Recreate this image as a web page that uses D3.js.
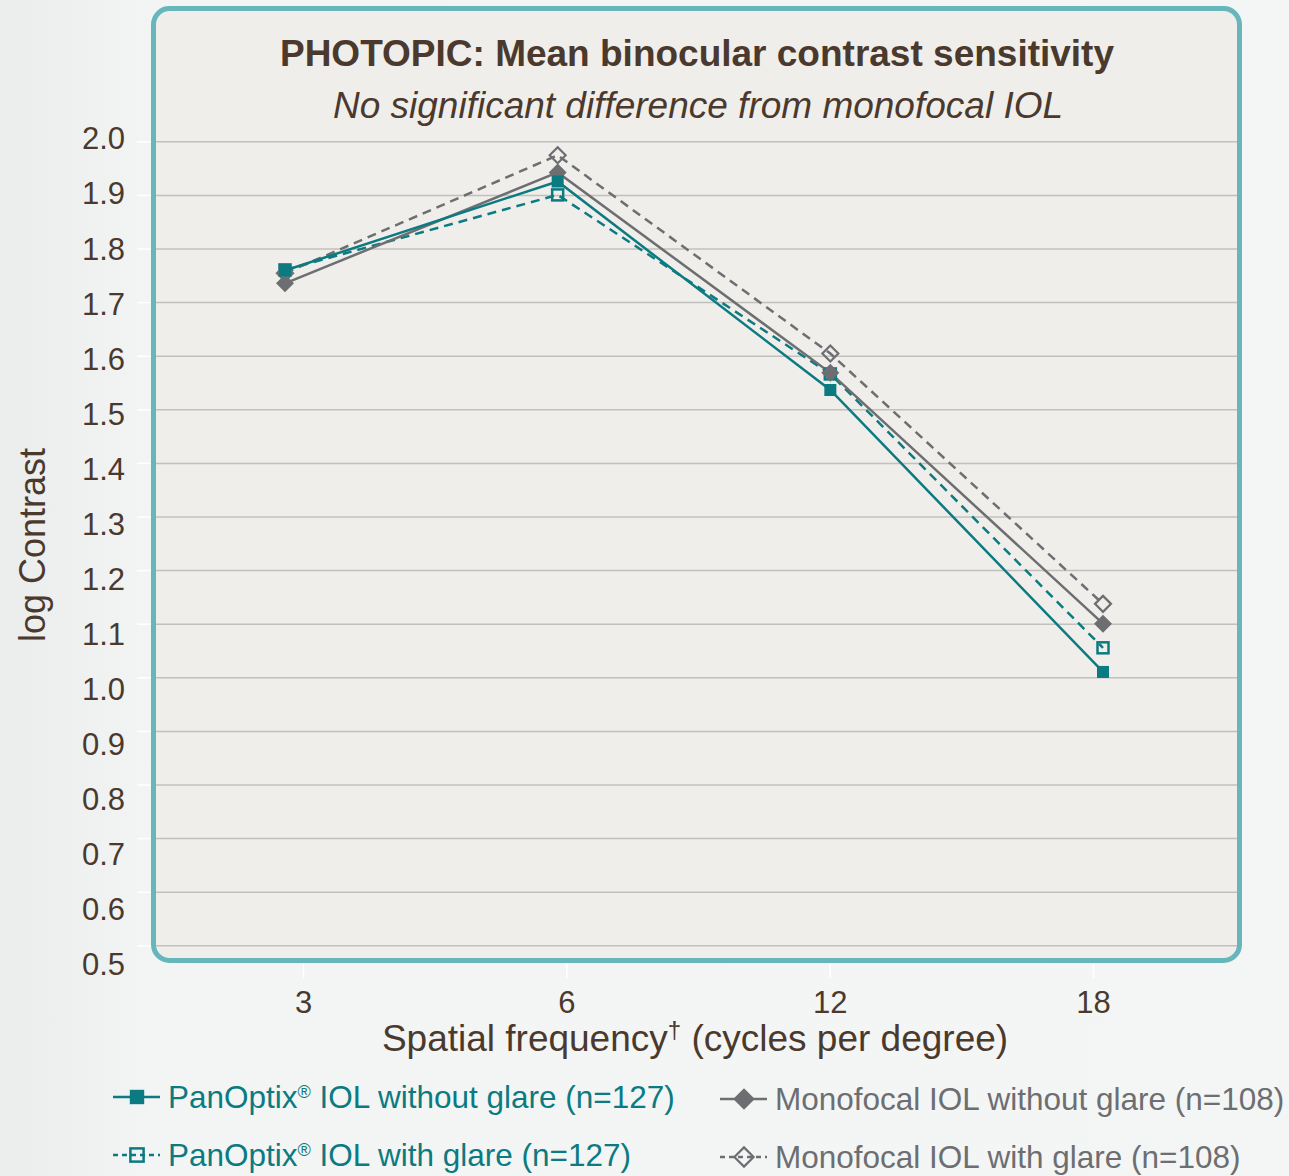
<!DOCTYPE html>
<html><head><meta charset="utf-8">
<script src="https://cdn.jsdelivr.net/npm/d3@7"></script>
<style>
html,body{margin:0;padding:0;background:#f1f4f3;}
svg{display:block;font-family:"Liberation Sans",Arial,sans-serif;}
</style></head><body>
<svg id="c" width="1289" height="1176"></svg>
<script>
const categories = ["3","6","12","18"];
const panWithout = [1.759, 1.925, 1.536, 1.010];
const panWith    = [1.760, 1.900, 1.566, 1.055];
const monoWithout= [1.735, 1.942, 1.568, 1.100];
const monoWith   = [1.754, 1.974, 1.604, 1.137];
const yTicks = [0.5,0.6,0.7,0.8,0.9,1.0,1.1,1.2,1.3,1.4,1.5,1.6,1.7,1.8,1.9,2.0];
const seriesNames = ["PanOptix® IOL without glare (n=127)","PanOptix® IOL with glare (n=127)","Monofocal IOL without glare (n=108)","Monofocal IOL with glare (n=108)"];

const TEAL="#0b7a81", GRAY="#6d6e71", BROWN="#4b392d";
const svg=d3.select("#c");

const defs=svg.append("defs");
const lg=defs.append("linearGradient").attr("id","bg").attr("x1","0").attr("x2","1");
lg.append("stop").attr("offset","0").attr("stop-color","#eaedec");
lg.append("stop").attr("offset","0.12").attr("stop-color","#f2f5f4");
lg.append("stop").attr("offset","1").attr("stop-color","#f4f6f5");
svg.append("rect").attr("width",1289).attr("height",1176).attr("fill","url(#bg)");

svg.append("rect").attr("x",153.5).attr("y",8.5).attr("width",1086).attr("height",952)
  .attr("rx",16).attr("fill","#efeeea").attr("stroke","#66b6bb").attr("stroke-width",5);

const x=d3.scalePoint().domain(categories).range([285,1103]);
const xLab=d3.scalePoint().domain(categories).range([303,1093]);
const y=d3.scaleLinear().domain([0.5,2.0]).range([945.3,141.3]);
const yLab=d3.scaleLinear().domain([0.5,2.0]).range([965,139]);

svg.append("g").attr("transform","translate(1237,0)")
  .call(d3.axisLeft(y).tickValues(yTicks).tickSize(1081).tickFormat(""))
  .call(g=>{g.select(".domain").remove();g.selectAll("line").attr("stroke","#c2c0bc").attr("stroke-width",1.5);});
svg.append("g").attr("transform","translate(151,0)")
  .call(d3.axisLeft(y).tickValues(yTicks).tickSize(14).tickFormat(""))
  .call(g=>{g.select(".domain").remove();g.selectAll("line").attr("stroke","#ffffff").attr("stroke-width",1.5);});
svg.append("g").attr("transform","translate(125,0)")
  .call(d3.axisLeft(yLab).tickValues(yTicks).tickSize(0).tickPadding(0).tickFormat(d3.format(".1f")))
  .call(g=>{g.select(".domain").remove();g.selectAll("text").attr("fill",BROWN).style("font-size","31px").attr("font-family","Liberation Sans, Arial, sans-serif");});
svg.append("g").attr("transform","translate(0,963)")
  .call(d3.axisBottom(xLab).tickSize(15).tickFormat(""))
  .call(g=>{g.select(".domain").remove();g.selectAll("line").attr("stroke","#ffffff").attr("stroke-width",1.5);});
svg.append("g").attr("transform","translate(0,1013)")
  .call(d3.axisBottom(xLab).tickSize(0).tickPadding(0))
  .call(g=>{g.select(".domain").remove();g.selectAll("text").attr("fill",BROWN).attr("dy",0).style("font-size","31px").attr("font-family","Liberation Sans, Arial, sans-serif");});

svg.append("text").attr("x",697).attr("y",66).attr("text-anchor","middle").attr("fill",BROWN)
  .style("font-size","37px").style("font-weight","bold").text("PHOTOPIC: Mean binocular contrast sensitivity");
svg.append("text").attr("x",698).attr("y",118).attr("text-anchor","middle").attr("fill",BROWN)
  .style("font-size","37px").style("font-style","italic").text("No significant difference from monofocal IOL");
svg.append("text").attr("transform","translate(45,545) rotate(-90)").attr("text-anchor","middle").attr("fill",BROWN)
  .style("font-size","36px").text("log Contrast");
const xt=svg.append("text").attr("x",695).attr("y",1051).attr("text-anchor","middle").attr("fill",BROWN).style("font-size","37px");
xt.append("tspan").text("Spatial frequency");
xt.append("tspan").attr("dy",-13).style("font-size","24px").text("†");
xt.append("tspan").attr("dy",13).text(" (cycles per degree)");

const series=[
 {vals:panWith, color:TEAL, dash:"9,6", marker:"sq", fill:false},
 {vals:monoWith, color:GRAY, dash:"9,6", marker:"di", fill:false},
 {vals:monoWithout, color:GRAY, dash:null, marker:"di", fill:true},
 {vals:panWithout, color:TEAL, dash:null, marker:"sq", fill:true},
];
const line=d3.line().x((d,i)=>x(categories[i])).y(d=>y(d));
function marker(g,type,fill,color,cx,cy,sc){
  sc=sc||1;
  if(type==="sq"){
    const s=(fill?12:11)*sc;
    g.append("rect").attr("x",cx-s/2).attr("y",cy-s/2).attr("width",s).attr("height",s)
     .attr("fill",fill?color:"none").attr("stroke",color).attr("stroke-width",fill?0:2.5);
  } else {
    const r=(fill?9:8)*sc;
    g.append("path").attr("d",`M${cx},${cy-r}L${cx+r},${cy}L${cx},${cy+r}L${cx-r},${cy}Z`)
     .attr("fill",fill?color:"none").attr("stroke",color).attr("stroke-width",fill?0:2.2);
  }
}
series.forEach(s=>{
  svg.append("path").datum(s.vals).attr("d",line).attr("fill","none").attr("stroke",s.color)
    .attr("stroke-width",2.5).attr("stroke-dasharray",s.dash);
});
series.forEach(s=>{
  const g=svg.append("g");
  s.vals.forEach((v,i)=>marker(g,s.marker,s.fill,s.color,x(categories[i]),y(v)));
});

const leg=[
 {name:seriesNames[0],x:113,y:1097,color:TEAL,dash:null,m:"sq",fill:true},
 {name:seriesNames[1],x:113,y:1155,color:TEAL,dash:"5,4",m:"sq",fill:false},
 {name:seriesNames[2],x:720,y:1099,color:GRAY,dash:null,m:"di",fill:true},
 {name:seriesNames[3],x:720,y:1157,color:GRAY,dash:"5,4",m:"di",fill:false},
];
leg.forEach(l=>{
  const g=svg.append("g");
  g.append("line").attr("x1",l.x).attr("x2",l.x+47).attr("y1",l.y).attr("y2",l.y)
    .attr("stroke",l.color).attr("stroke-width",2.5).attr("stroke-dasharray",l.dash);
  marker(g,l.m,l.fill,l.color,l.x+24,l.y,1.2);
  const t=g.append("text").attr("x",l.x+55).attr("y",l.y+11).attr("fill",l.color).style("font-size","31.5px");
  const parts=l.name.split("®");
  t.append("tspan").text(parts[0]);
  if(parts.length>1){
    t.append("tspan").attr("dy",-10).style("font-size","18px").text("®");
    t.append("tspan").attr("dy",10).text(parts[1]);
  }
});
</script>
</body></html>
